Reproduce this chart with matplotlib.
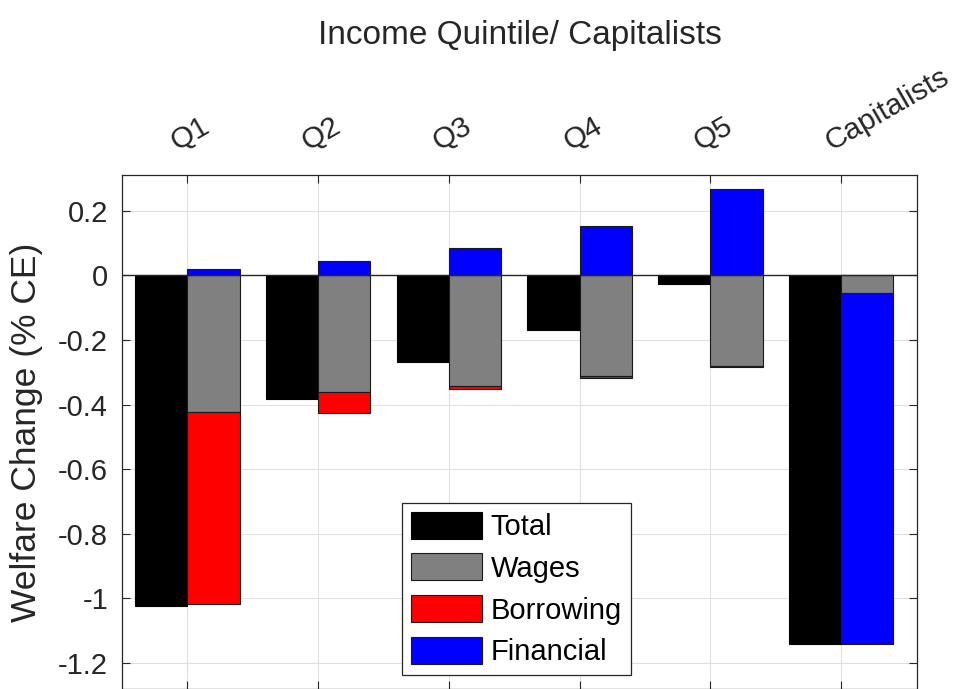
import numpy as np
import matplotlib
matplotlib.use("Agg")
import matplotlib.pyplot as plt

plt.rcParams['font.family'] = ['Liberation Sans', 'DejaVu Sans']
plt.rcParams['axes.unicode_minus'] = False

# data
groups = ["Q1", "Q2", "Q3", "Q4", "Q5", "Capitalists"]
total = [-1.023, -0.384, -0.268, -0.169, -0.026, -1.140]
wages = [-0.422, -0.360, -0.343, -0.313, -0.281, -0.055]
borrowing = [-0.594, -0.067, -0.008, -0.004, -0.003, 0.0]
financial = [0.019, 0.044, 0.084, 0.153, 0.266, -1.085]
components = [("Wages", wages, "#808080"),
              ("Borrowing", borrowing, "#ff0000"),
              ("Financial", financial, "#0000ff")]
yticks = [-1.2, -1.0, -0.8, -0.6, -0.4, -0.2, 0.0, 0.2]

txt = "#262626"
x = np.arange(1, len(groups) + 1)
w = 0.4

fig = plt.figure(figsize=(9.63, 6.89), dpi=100)
ax = fig.add_axes([122 / 963, 0.0, 795 / 963, 514 / 689])

handles = []
h = ax.bar(x - w / 2, total, w, color="black", edgecolor="black", lw=0.8,
           label="Total", zorder=3)
handles.append(h)

# stack positives and negatives separately (like MATLAB 'stacked')
pos = np.zeros(len(groups))
neg = np.zeros(len(groups))
for name, vals, col in components:
    vals = np.array(vals)
    bottom = np.where(vals >= 0, pos, neg)
    h = ax.bar(x + w / 2, vals, w, bottom=bottom, color=col,
               edgecolor="#1a1a1a", lw=0.8, label=name, zorder=3)
    handles.append(h)
    pos = pos + np.where(vals >= 0, vals, 0)
    neg = neg + np.where(vals < 0, vals, 0)

ax.axhline(0, color="#262626", lw=1.0, zorder=4)

ax.set_xlim(0.5, 6.58)
ax.set_ylim(-1.28, 0.31)
ax.set_xticks(x)
ax.set_xticklabels([])
ax.set_yticks(yticks)
ax.set_yticklabels(["%g" % v for v in yticks])
ax.tick_params(direction="in", top=True, right=True, length=6, width=0.8,
               colors=txt, labelsize=21, pad=10)
ax.grid(True, color="#e0e0e0", lw=0.8, zorder=0)
ax.set_axisbelow(True)
for s in ax.spines.values():
    s.set_color(txt)
    s.set_linewidth(0.9)

# rotated group labels above the axes
trans = ax.get_xaxis_transform()
for xi, lab in zip(x, groups):
    ax.text(xi - 0.075, 1.047, lab, transform=trans, rotation=30,
            rotation_mode="anchor", ha="left", va="baseline",
            fontsize=21.5, color=txt)

ax.set_title("Income Quintile/ Capitalists", fontsize=24, color=txt, pad=94)
ax.set_ylabel("Welfare Change (% CE)", fontsize=25.5, color=txt)
ax.yaxis.set_label_coords(-0.099, 0.5)

leg = ax.legend(handles=handles, loc="lower left",
                bbox_to_anchor=(0.352, 0.027), borderaxespad=0,
                fontsize=21, fancybox=False, framealpha=1,
                edgecolor="#262626", handlelength=2.45, handleheight=1.05,
                handletextpad=0.3, labelspacing=0.42, borderpad=0.3)
leg.get_frame().set_linewidth(0.9)
leg.set_zorder(5)

fig.savefig("out.png", dpi=100)
